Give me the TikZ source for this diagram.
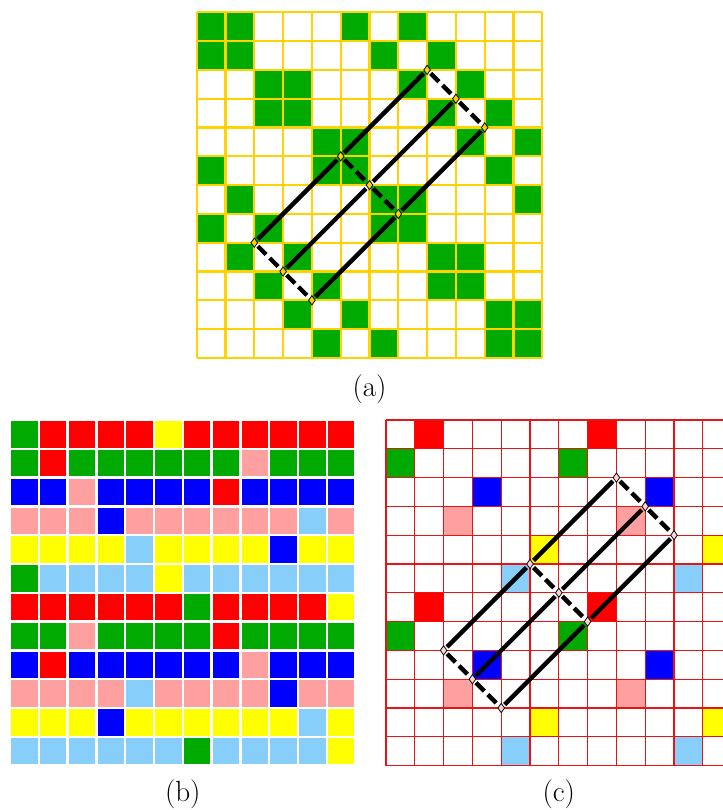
\documentclass[tikz,border=0pt]{standalone}
\usepackage{tikz}
\usetikzlibrary{shapes.geometric}
\definecolor{cellG}{RGB}{0,170,0}
\definecolor{cellR}{RGB}{255,0,0}
\definecolor{cellB}{RGB}{0,0,255}
\definecolor{cellY}{RGB}{255,255,0}
\definecolor{cellP}{RGB}{255,160,160}
\definecolor{cellL}{RGB}{135,206,250}
\definecolor{cellW}{RGB}{255,255,255}
\definecolor{gridgold}{RGB}{255,210,0}
\definecolor{gridred}{RGB}{230,20,20}
\tikzset{
  gridA/.style={draw=gridgold, line width=1.2pt},
  gridB/.style={draw=white, line width=1.4pt},
  gridC/.style={draw=gridred, line width=0.7pt},
  markpt/.style={shape=diamond, draw=black, line width=0.45pt, inner sep=0pt, minimum width=5pt, minimum height=6.6pt, outer sep=1.3pt},
  bandline/.style={line width=2.6pt},
  bandcut/.style={line width=2.6pt, dash pattern=on 7pt off 3pt},
  sublabel/.style={font=\LARGE}
}

\begin{document}
\begin{tikzpicture}[x=0.6cm,y=-0.6cm]
  \clip (0,0) rectangle (25.104,28.125);

  % (a) binary pattern
  \begin{scope}[shift={(6.83,0.427)}]
    \foreach \rowcells [count=\r from 0] in {
      {G,G,W,W,W,G,W,G,W,W,W,W},
      {G,G,W,W,W,W,G,W,G,W,W,W},
      {W,W,G,G,W,W,W,G,W,G,W,W},
      {W,W,G,G,W,W,W,W,G,W,G,W},
      {W,W,W,W,G,G,W,W,W,G,W,G},
      {G,W,W,W,G,G,W,W,W,W,G,W},
      {W,G,W,W,W,W,G,G,W,W,W,G},
      {G,W,G,W,W,W,G,G,W,W,W,W},
      {W,G,W,G,W,W,W,W,G,G,W,W},
      {W,W,G,W,G,W,W,W,G,G,W,W},
      {W,W,W,G,W,G,W,W,W,W,G,G},
      {W,W,W,W,G,W,G,W,W,W,G,G}}{
      \foreach \c [count=\k from 0] in \rowcells
        \fill[fill=cell\c] (\k,\r) rectangle ++(1,1);
    }
    \foreach \i in {0,...,12} {
      \draw[gridA] (\i,0) -- (\i,12);
      \draw[gridA] (0,\i) -- (12,\i);
    }
    \node[sublabel] (capA) at (6,13.08) {(a)};
  \end{scope}

  % (b) full colouring
  \begin{scope}[shift={(0.347,14.583)}]
    \foreach \rowcells [count=\r from 0] in {
      {G,R,R,R,R,Y,R,R,R,R,R,R},
      {G,R,G,G,G,G,G,G,P,G,G,G},
      {B,B,P,B,B,B,B,R,B,B,B,B},
      {P,P,P,B,P,P,P,P,P,P,L,P},
      {Y,Y,Y,Y,L,Y,Y,Y,Y,B,Y,Y},
      {G,L,L,L,L,Y,L,L,L,L,L,L},
      {R,R,R,R,R,R,G,R,R,R,R,Y},
      {G,G,P,G,G,G,G,R,G,G,G,G},
      {B,R,B,B,B,B,B,B,P,B,B,B},
      {P,P,P,P,L,P,P,P,P,B,P,P},
      {Y,Y,Y,B,Y,Y,Y,Y,Y,Y,L,Y},
      {L,L,L,L,L,L,G,L,L,L,L,Y}}{
      \foreach \c [count=\k from 0] in \rowcells
        \fill[fill=cell\c] (\k,\r) rectangle ++(1,1);
    }
    \foreach \i in {0,...,12} {
      \draw[gridB] (\i,0) -- (\i,12);
      \draw[gridB] (0,\i) -- (12,\i);
    }
    \node[sublabel] (capB) at (6,13.0) {(b)};
  \end{scope}

  % (c) sparse colouring
  \begin{scope}[shift={(13.403,14.583)}]
    \foreach \rowcells [count=\r from 0] in {
      {W,R,W,W,W,W,W,R,W,W,W,W},
      {G,W,W,W,W,W,G,W,W,W,W,W},
      {W,W,W,B,W,W,W,W,W,B,W,W},
      {W,W,P,W,W,W,W,W,P,W,W,W},
      {W,W,W,W,W,Y,W,W,W,W,W,Y},
      {W,W,W,W,L,W,W,W,W,W,L,W},
      {W,R,W,W,W,W,W,R,W,W,W,W},
      {G,W,W,W,W,W,G,W,W,W,W,W},
      {W,W,W,B,W,W,W,W,W,B,W,W},
      {W,W,P,W,W,W,W,W,P,W,W,W},
      {W,W,W,W,W,Y,W,W,W,W,W,Y},
      {W,W,W,W,L,W,W,W,W,W,L,W}}{
      \foreach \c [count=\k from 0] in \rowcells
        \fill[fill=cell\c] (\k,\r) rectangle ++(1,1);
    }
    \foreach \i in {0,...,12} {
      \draw[gridC] (\i,0) -- (\i,12);
      \draw[gridC] (0,\i) -- (12,\i);
    }
    \node[sublabel] (capC) at (6,13.0) {(c)};
  \end{scope}

  % tilted band on (a) and (c)
  \foreach \p/\dx/\dy/\mk in {a/6.83/0.427/gridgold, c/13.403/14.583/cellP!45} {
    \begin{scope}[shift={(\dx,\dy)}]
      \foreach \n/\gx/\gy in {t1/2/8, t2/5/5, t3/8/2, m1/3/9, m2/6/6, m3/9/3, b1/4/10, b2/7/7, b3/10/4}
        \node[markpt, fill=\mk] (\p-\n) at (\gx,\gy) {};
      \draw[bandline] (\p-t1) -- (\p-t2) -- (\p-t3);
      \draw[bandline] (\p-m1) -- (\p-m2) -- (\p-m3);
      \draw[bandline] (\p-b1) -- (\p-b2) -- (\p-b3);
      \draw[bandcut] (\p-t3) -- (\p-m3) -- (\p-b3);
      \draw[bandcut] (\p-t2) -- (\p-m2) -- (\p-b2);
      \draw[bandcut] (\p-t1) -- (\p-m1) -- (\p-b1);
    \end{scope}
  }
\end{tikzpicture}
\end{document}
